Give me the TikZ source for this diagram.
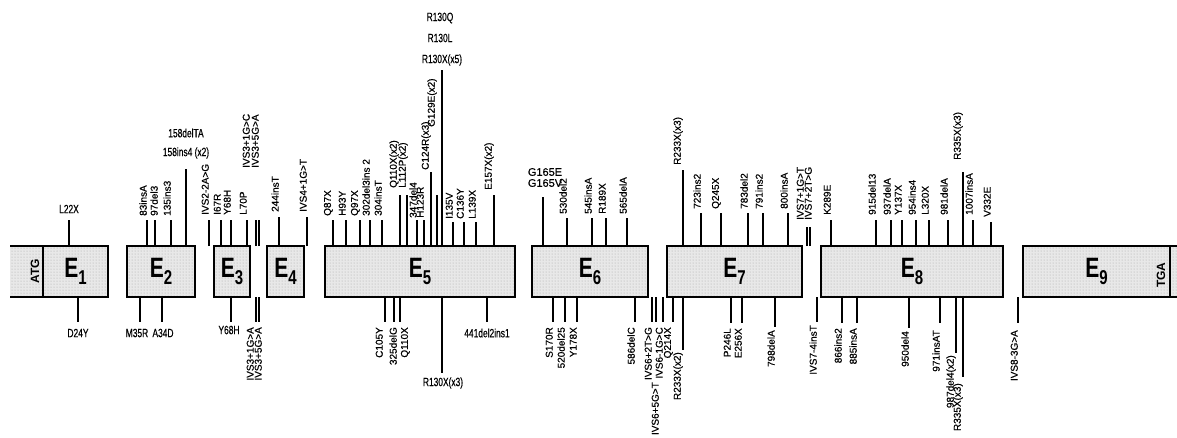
\documentclass[tikz,border=0pt]{standalone}
\usepackage{fontspec}
\setmainfont{Liberation Sans}
\newfontfamily\labfont[FakeBold=0.4]{Liberation Sans}
\newfontfamily\narrowfont[FakeStretch=0.7, FakeBold=0.5]{Liberation Sans}
\newfontfamily\exonfont[FakeStretch=0.75]{Liberation Sans Bold}
\usetikzlibrary{patterns}

\tikzset{
  exon/.style={draw, line width=1.6pt, preaction={fill=black!9},
    pattern=dots, pattern color=black!35, minimum height=51pt,
    inner sep=0pt, outer sep=0pt, font=\exonfont\fontsize{28}{28}\selectfont},
  utr/.style={preaction={fill=black!9}, pattern=dots, pattern color=black!35,
    minimum height=51pt, inner sep=0pt, outer sep=0pt},
  boxline/.style={line width=1.6pt},
  mutline/.style={line width=1.3pt},
  uplab/.style={rotate=90, anchor=south west, inner sep=0pt,
    font=\labfont\fontsize{10}{10}\selectfont},
  downlab/.style={rotate=90, anchor=south east, inner sep=0pt,
    font=\labfont\fontsize{10}{10}\selectfont},
  hlab/.style={inner sep=0pt, font=\narrowfont\fontsize{12}{12}\selectfont},
  hlabwide/.style={inner sep=0pt, font=\labfont\fontsize{11}{11}\selectfont},
  codon/.style={rotate=90, inner sep=0pt, font=\bfseries\fontsize{12}{12}\selectfont},
}
\newcommand{\exname}[1]{E\raisebox{-7pt}{\fontsize{20}{20}\selectfont#1}}

\begin{document}
\begin{tikzpicture}[x=1pt, y=-1pt]
  \useasboundingbox (0,0) rectangle (1177,437);
  % untranslated ends
  \node[utr, minimum width=33pt] (utr5) at (26.5,271.5) {};
  \node[utr, minimum width=10pt] (utr3) at (1175,271.5) {};
  \draw[boxline] (utr5.north west) -- (utr5.north east)
    (utr5.south west) -- (utr5.south east)
    (utr3.north west) -- (utr3.north east)
    (utr3.south west) -- (utr3.south east);
  % exons
  \foreach \n/\cx/\w in {1/75.5/65, 2/161/68, 3/232/36, 4/285.5/37, 5/420/190,
                         6/590/116, 7/734.5/135, 8/912/182, 9/1096.5/147}
    \node[exon, minimum width=\w pt] (e\n) at (\cx,271.5) {\exname{\n}};
  \node[codon] (atg) at (35,271) {ATG};
  \node[codon] (tga) at (1161,275) {TGA};
  \coordinate (top) at (0,246);
  \coordinate (bot) at (0,297);
  % mutations above the exons
  \foreach \x/\l/\b/\t [count=\i] in {147/220/216/83insA,
      171/220/216/135ins3, 209/220/215/IVS2-2A>G, 221/220/215/I67R,
      231/220/215/Y68H, 247/220/215/L70P, 279/217/212/244insT,
      307/217/212/IVS4+1G>T, 333/220/216/Q87X, 346/220/216/H93Y,
      360/220/216/Q97X, 370/220/216/302del3ins 2, 382/220/216/304insT,
      417/220/218/347del4, 424/220/218/H123R, 431/172/170/C124R(x3),
      437/195/127/G129E(x2), 453/222/219/I135V, 464/222/219/C136Y,
      476/222/219/L139X, 494/195/190/E157X(x2), 567/218/214/530del2,
      592/218/214/545insA, 606/218/214/R189X, 627/218/214/565delA,
      683/170/165/R233X(x3), 701/213/209/723ins2, 721/213/209/Q245X,
      748/213/209/783del2, 763/213/209/791ins2, 788/213/209/800insA,
      831/220/215/K289E, 876/220/215/915del13, 891/220/215/937delA,
      902/220/215/Y137X, 916/220/215/954ins4, 929/220/215/L320X,
      948/220/215/981delA, 963/172/160/R335X(x3), 973/220/215/1007insA,
      991/222/217/V332E} {
    \coordinate (up\i) at (\x,\l);
    \draw[mutline] (up\i |- top) -- (up\i);
    \node[uplab] (upl\i) at (\x,\b) {\t};
  }
  % splice sites and shifted labels above
  \foreach \x/\l/\lx/\b/\t [count=\i] in {155/220/158/216/97del3,
      256/220/250/168/IVS3+1G>C, 259/220/259/168/IVS3+5G>A,
      400/195/399/188/Q110X(x2), 407/195/408/188/L112P(x2),
      807/227/804/220/IVS7+1G>T, 810/227/812/220/IVS7+2T>G} {
    \coordinate (iup\i) at (\x,\l);
    \draw[mutline] (iup\i |- top) -- (iup\i);
    \node[uplab] (iupl\i) at (\lx,\b) {\t};
  }
  % mutations below the exons
  \foreach \x/\l/\b/\t [count=\i] in {553/322/327/S170R, 565/322/327/520del25,
      577/322/327/Y178X, 635/322/327/586delC, 652/322/327/IVS6+2T>G,
      663/322/327/IVS6-1G>C, 673/322/327/Q214X, 683/350/352/R233X(x2),
      731/323/328/P246L, 742/323/328/E256X, 775/327/330/798delA,
      817/322/325/IVS7-4insT, 842/323/328/866ins2, 857/323/328/885insA,
      909/328/331/950del4, 940/323/330/971insAT, 956/353/355/987del4(x2),
      963/377/383/R335X(x3), 1018/323/330/IVS8-3G>A} {
    \coordinate (dn\i) at (\x,\l);
    \draw[mutline] (dn\i |- bot) -- (dn\i);
    \node[downlab] (dnl\i) at (\x,\b) {\t};
  }
  % splice sites and shifted labels below
  \foreach \x/\l/\lx/\b/\t [count=\i] in {256/322/254/327/IVS3+1G>A,
      259/322/262/327/IVS3+5G>A, 656/322/659/382/IVS6+5G>T,
      385/322/383/327/C105Y, 394/322/397/327/325delG,
      400/322/410/327/Q110X} {
    \coordinate (idn\i) at (\x,\l);
    \draw[mutline] (idn\i |- bot) -- (idn\i);
    \node[downlab] (idnl\i) at (\lx,\b) {\t};
  }
  % horizontal labels above
  \foreach \x/\l/\lx/\ly/\t [count=\i] in {69/220/69/209/L22X,
      186/169/186/153/158ins4 (x2), 442/70/442/60/R130X(x5)} {
    \coordinate (hup\i) at (\x,\l);
    \draw[mutline] (hup\i |- top) -- (hup\i);
    \node[hlab] (hupl\i) at (\lx,\ly) {\t};
  }
  \node[hlab] (del158) at (186,133) {158delTA};
  \node[hlab] (r130l) at (440,38) {R130L};
  \node[hlab] (r130q) at (440,18) {R130Q};
  \coordinate (g165) at (543,197);
  \draw[mutline] (g165 |- top) -- (g165);
  \node[hlabwide] (g165v) at (545,183) {G165V};
  \node[hlabwide] (g165e) at (545,172) {G165E};
  % horizontal labels below
  \foreach \x/\l/\lx/\ly/\t [count=\i] in {78/322/78/333/D24Y,
      140/322/137/333/M35R, 162/322/163/333/A34D, 231/322/229/330/Y68H,
      442/373/443/383/R130X(x3), 487/322/487/333/441del2ins1} {
    \coordinate (hdn\i) at (\x,\l);
    \draw[mutline] (hdn\i |- bot) -- (hdn\i);
    \node[hlab] (hdnl\i) at (\lx,\ly) {\t};
  }
\end{tikzpicture}
\end{document}
